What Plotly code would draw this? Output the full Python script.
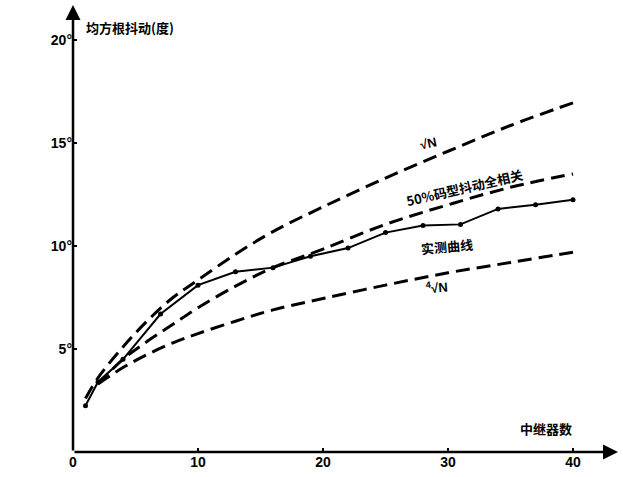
import plotly.graph_objects as go

# measured curve (实测曲线)
meas_n = [1, 2, 4, 7, 10, 13, 16, 19, 22, 25, 28, 31, 34, 37, 40]
meas_v = [2.25, 3.4, 4.5, 6.7, 8.1, 8.75, 8.95, 9.5, 9.9, 10.65, 11.0, 11.05, 11.8, 12.0, 12.25]

# √N curve
sqrt_n = [1, 2, 4, 6, 8, 10, 13, 16, 20, 25, 30, 35, 40]
sqrt_v = [2.6, 3.6, 5.1, 6.4, 7.5, 8.35, 9.6, 10.7, 11.9, 13.3, 14.6, 15.85, 16.95]

# 50% 码型抖动全相关 curve
corr_n = [2, 4, 6, 8, 10, 13, 16, 20, 25, 30, 35, 40]
corr_v = [3.3, 4.5, 5.4, 6.2, 7.0, 8.05, 8.95, 9.85, 11.05, 12.0, 12.85, 13.5]

# ⁴√N curve
root4_n = [2, 4, 6, 8, 10, 13, 16, 20, 25, 30, 35, 40]
root4_v = [3.3, 4.1, 4.75, 5.3, 5.75, 6.35, 6.9, 7.45, 8.1, 8.7, 9.2, 9.7]

x_ticks = [0, 10, 20, 30, 40]
y_ticks = [5, 10, 15, 20]
y_tick_text = ["5°", "10°", "15°", "20°"]

FONT = "Liberation Sans, Noto Sans CJK SC, sans-serif"
CJK = "Noto Sans CJK SC, sans-serif"

fig = go.Figure()
dash = "14px,7px"
for xs, ys in [(sqrt_n, sqrt_v), (corr_n, corr_v), (root4_n, root4_v)]:
    fig.add_trace(go.Scatter(x=xs, y=ys, mode="lines",
                             line=dict(color="black", width=3, dash=dash, shape="spline", smoothing=1.0),
                             showlegend=False, hoverinfo="skip"))
fig.add_trace(go.Scatter(x=meas_n, y=meas_v, mode="lines+markers",
                         line=dict(color="black", width=2),
                         marker=dict(color="black", size=5),
                         showlegend=False, hoverinfo="skip"))

XMAX, YMAX = 43.6, 21.7
annotations = [
    # axes with arrows
    dict(x=XMAX, y=0, ax=0, ay=0, xref="x", yref="y", axref="x", ayref="y",
         showarrow=True, arrowhead=2, arrowsize=1.2, arrowwidth=2.5, arrowcolor="black", text=""),
    dict(x=0, y=YMAX, ax=0, ay=0, xref="x", yref="y", axref="x", ayref="y",
         showarrow=True, arrowhead=2, arrowsize=1.2, arrowwidth=2.5, arrowcolor="black", text=""),
    dict(x=0.9, y=20.6, xref="x", yref="y", text="<b>均方根抖动(度)</b>", showarrow=False,
         xanchor="left", font=dict(family=CJK, size=13, color="black")),
    dict(x=37.8, y=0.6, xref="x", yref="y", text="<b>中继器数</b>", showarrow=False,
         yanchor="bottom", font=dict(family=CJK, size=13, color="black")),
    dict(x=28.4, y=15.0, xref="x", yref="y", text="<b>√N</b>", showarrow=False,
         textangle=-12, font=dict(family=FONT, size=13, color="black")),
    dict(x=31.3, y=12.85, xref="x", yref="y", text="<b>50%码型抖动全相关</b>", showarrow=False,
         textangle=-13, font=dict(family=CJK, size=13, color="black")),
    dict(x=29.9, y=9.99, xref="x", yref="y", text="<b>实测曲线</b>", showarrow=False,
         textangle=-5, font=dict(family=CJK, size=13, color="black")),
    dict(x=29.1, y=7.99, xref="x", yref="y", text="<b><sup>4</sup>√N</b>", showarrow=False,
         textangle=-5, font=dict(family=FONT, size=13, color="black")),
]

fig.update_layout(
    width=623, height=477,
    margin=dict(l=73, r=5, t=5, b=25),
    paper_bgcolor="white", plot_bgcolor="white",
    annotations=annotations,
    xaxis=dict(range=[0, XMAX], showgrid=False, zeroline=False, showline=False,
               tickmode="array", tickvals=x_ticks, ticks="inside", ticklen=4, tickwidth=2,
               tickcolor="black",
               tickfont=dict(family=FONT, size=14, color="black", weight="bold")),
    yaxis=dict(range=[0, YMAX], showgrid=False, zeroline=False, showline=False,
               tickmode="array", tickvals=y_ticks, ticktext=y_tick_text,
               ticks="inside", ticklen=4, tickwidth=2, tickcolor="black",
               tickfont=dict(family=FONT, size=14, color="black", weight="bold")),
)

fig.write_html("out.html")
